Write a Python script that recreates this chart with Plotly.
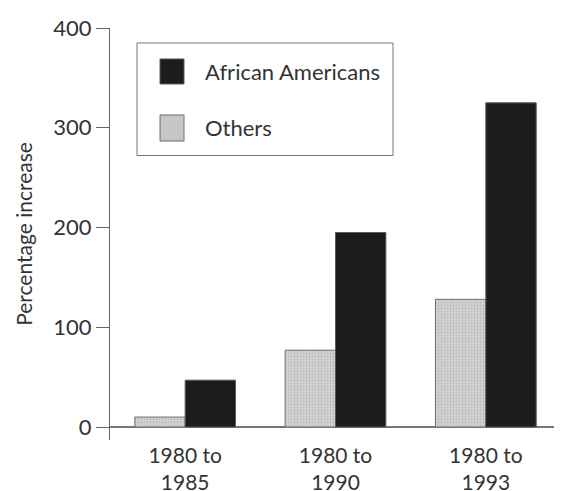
import plotly.graph_objects as go

categories = ["1980 to<br>1985", "1980 to<br>1990", "1980 to<br>1993"]
others = [10, 77, 128]
african_americans = [47, 195, 325]
y_ticks = [0, 100, 200, 300, 400]
series_names = ["African Americans", "Others"]

FONT = "Lato"
TXT = "#333333"

fig = go.Figure()
fig.add_trace(go.Bar(
    x=categories, y=others, name=series_names[1], showlegend=False,
    marker=dict(color="#c6c6c6", line=dict(color="#6e6e6e", width=1),
                pattern=dict(shape=".", fgcolor="#9a9a9a", bgcolor="#d4d4d4", size=3, solidity=0.3)),
))
fig.add_trace(go.Bar(
    x=categories, y=african_americans, name=series_names[0], showlegend=False,
    marker=dict(color="#1c1c1c", line=dict(color="#5a5a5a", width=1)),
))

# legend drawn as box + swatches + labels
fig.add_shape(type="rect", xref="paper", yref="paper", x0=0.0599, x1=0.6275, y0=0.6905, y1=0.9636,
              line=dict(color="#777777", width=1), fillcolor="white")
fig.add_shape(type="rect", xref="paper", yref="paper", x0=0.1109, x1=0.1641, y0=0.8641, y1=0.9248,
              line=dict(color="#5a5a5a", width=1), fillcolor="#1c1c1c")
fig.add_shape(type="rect", xref="paper", yref="paper", x0=0.1109, x1=0.1641, y0=0.7257, y1=0.7888,
              line=dict(color="#6e6e6e", width=1), fillcolor="#c6c6c6")
fig.add_annotation(text=series_names[0], xref="paper", yref="paper", x=0.2062, y=0.8944,
                   xanchor="left", yanchor="middle", showarrow=False,
                   font=dict(family=FONT, size=22, color=TXT))
fig.add_annotation(text=series_names[1], xref="paper", yref="paper", x=0.2062, y=0.7585,
                   xanchor="left", yanchor="middle", showarrow=False,
                   font=dict(family=FONT, size=22, color=TXT))

# page body has an 8px margin, so the figure is shrunk and margins shifted
fig.update_layout(
    width=554, height=483,
    margin=dict(l=102, r=1, t=20, b=51),
    paper_bgcolor="white", plot_bgcolor="white",
    barmode="group", bargap=0.33, bargroupgap=0,
    font=dict(family=FONT, size=22, color=TXT),
    showlegend=False,
)
fig.update_xaxes(showline=False, showgrid=False, ticks="", tickfont=dict(size=21),
                 range=[-0.5, 2.5], ticklabelstandoff=1, automargin=False)
fig.update_yaxes(range=[-13, 400], tickvals=y_ticks, showgrid=False,
                 showline=True, linecolor="#666666", linewidth=1.2,
                 ticks="outside", ticklen=13, tickcolor="#666666", tickwidth=1.2,
                 zeroline=True, zerolinecolor="#777777", zerolinewidth=1.5,
                 title=dict(text="Percentage increase", font=dict(size=21), standoff=14),
                 tickfont=dict(size=22))

fig.write_html("out.html")
